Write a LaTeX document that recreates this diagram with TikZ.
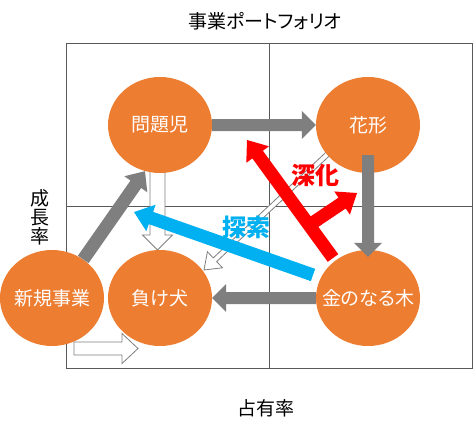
\documentclass[tikz,border=0pt]{standalone}
\usepackage{fontspec}
\setmainfont{Noto Sans CJK JP}[RawFeature=+palt]
\usepackage{xcolor}
\definecolor{bizorange}{HTML}{ED7D31}
\definecolor{flowgray}{HTML}{7F7F7F}
\definecolor{explore}{HTML}{00B0F0}
\definecolor{deepen}{HTML}{FF0000}
\definecolor{framegray}{HTML}{595959}
\usetikzlibrary{calc,shapes.geometric}
% block arrow: [style]{from}{to}{shaft half}{head half}{head length}
\newcommand{\blockarrow}[6][]{%
	\coordinate (ba-h) at ($(#3)!#6!(#2)$);
	\path[#1] ($(#2)!#4!90:(#3)$) -- ($(ba-h)!#4!90:(#3)$) -- ($(ba-h)!#5!90:(#3)$) -- (#3)
		-- ($(ba-h)!#5!-90:(#3)$) -- ($(ba-h)!#4!-90:(#3)$) -- ($(#2)!#4!-90:(#3)$) -- cycle;}

\begin{document}
\begin{tikzpicture}[
			x=1pt,
			y=-1pt,
			biz/.style={ellipse, fill=bizorange, minimum width=104, minimum height=96, inner sep=0pt, text=white, font=\fontsize{19}{19}\selectfont},
			grid/.style={draw=framegray, line width=1pt},
			flow/.style={fill=flowgray},
			openflow/.style={fill=white, draw=flowgray, line width=0.8pt},
			axis/.style={font=\fontsize{19}{19}\selectfont},
			keyword/.style={font=\bfseries\fontsize{24}{24}\selectfont}
		]
			\useasboundingbox (0,0) rectangle (474,432);

			% Quadrants
			\draw[grid] (66,43) rectangle (472,368);
			\draw[grid] (269,43) -- (269,368);
			\draw[grid] (66,206) -- (472,206);

			% Axis titles
			\node[axis] (title) at (265,21) {事業ポートフォリオ};
			\node[axis] (share) at (266,408) {占有率};
			\node[axis, align=center] (growth) at (40,217) {成\\長\\率};

			% Open arrows -- behind the circles
			\coordinate (dropTop) at (157.5,165);
			\coordinate (dropEnd) at (157.5,250);
			\blockarrow[openflow]{dropTop}{dropEnd}{7.5pt}{15pt}{15pt}
			\coordinate (newTail) at (74,348.5);
			\coordinate (newEnd) at (138,348.5);
			\blockarrow[openflow]{newTail}{newEnd}{6.5pt}{15pt}{16pt}
			\coordinate (fallTail) at (332,150);
			\coordinate (fallEnd) at (204,270);
			\blockarrow[openflow]{fallTail}{fallEnd}{2.5pt}{11pt}{15pt}

			% Businesses
			\node[biz] (problem) at (160,125) {\makebox[0pt]{問題児}};
			\node[biz] (star) at (368,125) {\makebox[0pt]{花形}};
			\node[biz] (cow) at (368,298) {\makebox[0pt]{金のなる木}};
			\node[biz] (dog) at (160,298) {\makebox[0pt]{負け犬}};
			\node[biz] (newbiz) at (52,298) {\makebox[0pt]{新規事業}};

			% Main flow
			\coordinate (starDrop) at ([yshift=18pt]star.south);
			\coordinate (cowTop) at ([yshift=-7pt]cow.north);
			\blockarrow[flow]{problem.east}{star.west}{6pt}{14pt}{14pt}
			\blockarrow[flow]{starDrop}{cowTop}{6pt}{14pt}{14pt}
			\blockarrow[flow]{cow.west}{dog.east}{6pt}{14pt}{14pt}
			\blockarrow[flow]{newbiz.51}{problem.252}{6.5pt}{14pt}{16pt}

			% Exploration
			\coordinate (exploreTail) at (313,275);
			\coordinate (exploreTip) at (134,212);
			\blockarrow[fill=explore]{exploreTail}{exploreTip}{6.5pt}{14pt}{18pt}
			\node[keyword, text=explore] (exploreLabel) at (246,227) {探索};

			% Deepening -- stem with a side branch
			\coordinate (deepTail) at (333,258);
			\coordinate (deepTip) at (247,140);
			\coordinate (deepFork) at (308,226);
			\coordinate (deepSide) at (357,193);
			\blockarrow[fill=deepen]{deepTail}{deepTip}{6.5pt}{14pt}{18pt}
			\blockarrow[fill=deepen]{deepFork}{deepSide}{6.5pt}{14pt}{18pt}
			\node[keyword, text=deepen] (deepLabel) at (315,175) {深化};
		\end{tikzpicture}
\end{document}
